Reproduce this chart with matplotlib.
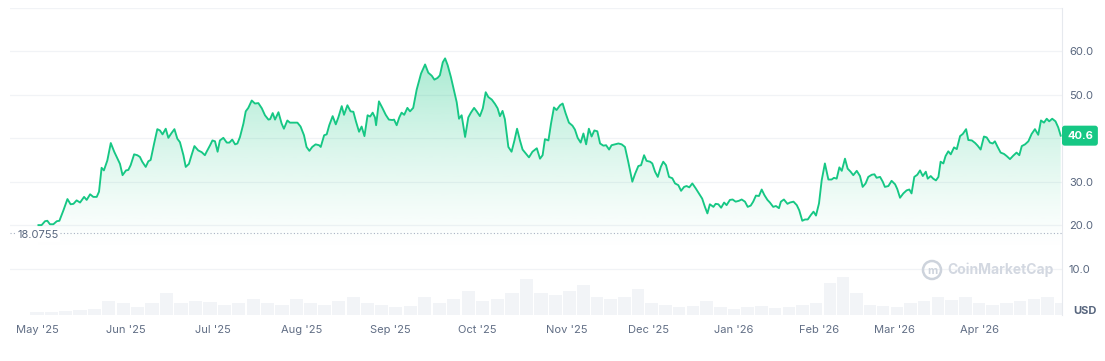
import numpy as np
import matplotlib
matplotlib.use("Agg")
import matplotlib.pyplot as plt
from matplotlib.patches import Circle
from matplotlib.transforms import blended_transform_factory

plt.rcParams['font.family'] = ['Inter', 'DejaVu Sans']

# price, days counted from 1 May 2025
days = [
    0.5, 1.6, 2.8, 3.6, 4.5, 5.7, 6.9, 7.8, 9.2, 10.6, 11.7, 12.7, 13.8, 15.0, 16.4, 17.3,
    18.5, 19.6, 20.8, 21.6, 22.5, 23.3, 24.5, 25.7, 26.9, 28.3, 28.9, 29.8, 31.0, 31.8,
    32.6, 33.8, 34.9, 35.8, 36.6, 37.8, 38.7, 39.5, 40.7, 41.8, 42.7, 43.6, 44.7, 45.6,
    46.7, 47.7, 48.7, 49.6, 50.8, 51.6, 52.7, 53.6, 54.6, 55.9, 57.1, 58.2, 58.8, 60.0,
    60.8, 61.7, 62.6, 63.4, 64.6, 65.8, 66.7, 67.7, 68.7, 69.5, 70.4, 71.6, 72.4, 73.3,
    74.5, 75.6, 76.8, 78.0, 79.1, 80.3, 80.9, 81.8, 82.6, 83.8, 84.9, 85.7, 86.9, 87.8,
    89.2, 90.4, 91.5, 92.7, 93.6, 94.6, 95.6, 96.8, 98.0, 98.6, 99.8, 100.7, 101.6, 102.8,
    103.9, 104.8, 106.0, 106.8, 108.0, 109.1, 110.1, 111.0, 112.1, 113.0, 114.0, 115.1,
    116.0, 116.9, 117.7, 118.1, 119.1, 120.3, 121.5, 122.6, 123.8, 124.4, 125.3, 126.2,
    127.0, 127.9, 129.0, 129.9, 131.0, 132.2, 133.7, 135.1, 136.2, 137.4, 138.3, 139.4,
    140.2, 141.2, 142.0, 142.9, 144.0, 144.8, 146.0, 146.8, 147.7, 148.9, 150.0, 150.9,
    152.0, 152.9, 154.0, 155.0, 156.0, 156.9, 158.1, 159.2, 160.1, 160.9, 161.8, 162.6,
    163.8, 164.9, 165.9, 166.8, 167.8, 168.7, 169.9, 170.9, 172.1, 173.6, 174.7, 175.6,
    176.4, 177.6, 178.5, 179.5, 180.4, 181.6, 182.5, 183.5, 184.7, 186.0, 186.9, 187.9,
    189.0, 190.0, 191.0, 192.0, 193.0, 194.0, 195.1, 196.1, 197.3, 198.3, 199.4, 200.3,
    201.6, 202.8, 204.0, 205.2, 206.4, 207.9, 208.9, 210.1, 211.1, 212.2, 213.1, 214.4,
    215.2, 216.2, 217.2, 218.3, 219.2, 220.2, 221.3, 222.5, 223.5, 224.7, 225.7, 226.8,
    227.7, 228.7, 229.8, 231.0, 232.2, 233.4, 234.4, 235.3, 236.2, 237.5, 238.3, 239.3,
    240.3, 241.4, 242.3, 243.5, 244.5, 245.6, 246.8, 247.8, 249.0, 250.0, 251.1, 252.0,
    253.0, 254.1, 255.1, 256.1, 257.2, 258.1, 259.3, 260.3, 261.4, 262.1, 263.2, 264.5,
    265.4, 266.7, 267.9, 268.8, 269.9, 270.9, 271.9, 273.0, 274.0, 274.9, 276.0, 277.0,
    278.2, 279.5, 280.7, 281.6, 282.6, 283.6, 284.5, 285.7, 286.7, 287.8, 288.8, 290.1,
    291.3, 292.3, 293.4, 294.4, 295.7, 296.7, 297.5, 298.8, 299.8, 300.6, 301.9, 303.1,
    304.4, 305.2, 306.2, 307.4, 308.6, 309.6, 310.4, 311.4, 312.5, 313.5, 314.5, 315.6,
    316.3, 317.4, 318.3, 319.3, 320.2, 321.0, 322.0, 322.8, 323.8, 324.7, 325.9, 326.9,
    328.1, 329.1, 330.3, 331.1, 332.4, 333.6, 334.5, 335.6, 336.8, 337.8, 339.0, 340.0,
    340.8, 341.8, 342.9, 344.1, 345.1, 346.3, 347.5, 348.7, 349.7, 350.6, 351.8, 353.0,
    354.2, 355.4, 356.6, 357.6, 358.7, 359.7, 360.6, 361.7, 362.9, 363.9, 364.8,
]
price = [
    20.0, 20.0, 20.9, 21.0, 20.2, 20.2, 20.9, 21.0, 23.4, 26.0, 24.8, 24.9, 25.7, 25.2, 26.5, 25.8,
    27.1, 26.5, 26.5, 27.7, 33.2, 32.6, 34.9, 38.9, 36.9, 34.9, 34.1, 31.5, 32.6, 32.7,
    33.8, 36.3, 36.1, 35.7, 34.6, 33.4, 34.7, 35.0, 38.8, 42.1, 41.8, 40.9, 42.2, 40.1,
    41.2, 42.1, 39.9, 39.1, 36.1, 33.4, 34.1, 36.1, 38.2, 37.2, 36.8, 36.1, 36.9, 38.4,
    39.5, 39.3, 36.9, 39.5, 40.1, 39.0, 39.0, 39.7, 38.6, 38.8, 40.3, 43.4, 46.2, 47.0,
    48.7, 48.0, 48.1, 46.9, 45.3, 44.3, 44.4, 45.8, 44.3, 46.0, 43.4, 42.2, 44.1, 43.6,
    43.6, 43.6, 42.7, 40.7, 38.0, 37.1, 38.0, 38.6, 38.4, 38.0, 40.7, 40.9, 43.0, 45.1,
    43.2, 44.8, 47.4, 45.4, 47.6, 46.2, 46.1, 43.9, 41.5, 42.7, 40.5, 45.3,
    45.0, 45.9, 44.8, 43.0, 48.5, 47.0, 45.4, 44.3, 44.2, 44.3, 43.0, 44.8,
    45.9, 45.4, 47.0, 46.2, 47.0, 51.2, 54.9, 57.0, 55.1, 54.4, 53.5, 53.9,
    54.5, 57.5, 58.4, 56.8, 54.1, 51.8, 48.3, 44.5, 45.3, 40.3, 44.8, 45.9,
    47.0, 46.2, 45.1, 46.9, 50.6, 49.5, 48.9, 47.9, 46.9, 45.1, 46.3, 44.4,
    38.0, 36.9, 39.5, 42.2, 39.5, 37.4, 36.4, 35.6, 36.9, 37.7, 35.3, 36.1,
    39.8, 39.5, 43.4, 47.1, 46.5, 47.6, 48.0, 45.8, 43.6, 42.9, 42.0, 40.1,
    39.0, 41.1, 38.6, 42.2, 40.4, 41.8, 41.6, 38.8, 38.3, 38.4, 37.4, 38.4,
    38.6, 38.8, 38.6, 38.0, 34.6, 30.0, 31.8, 33.6, 33.8, 36.1, 34.8, 34.6,
    34.2, 32.3, 31.1, 33.4, 34.6, 33.8, 31.1, 30.8, 29.6, 29.2, 27.9, 28.8,
    29.0, 28.7, 29.6, 28.5, 27.3, 26.1, 24.2, 22.7, 24.8, 24.2, 24.9, 24.8,
    24.0, 25.2, 24.6, 25.8, 25.9, 25.4, 25.6, 25.9, 25.4, 24.2, 24.5, 25.4,
    26.8, 26.7, 28.2, 26.9, 25.8, 25.2, 24.2, 24.4, 23.9, 25.4, 25.9, 24.9,
    25.2, 25.4, 24.6, 23.4, 21.0, 21.3, 21.3, 22.3, 23.1, 22.2, 25.0, 30.3,
    34.2, 30.5, 30.5, 30.9, 30.7, 33.3, 32.5, 35.3, 33.0, 32.3, 31.5, 32.5,
    31.3, 28.8, 29.6, 31.1, 31.6, 31.7, 30.9, 31.1, 30.0, 28.8, 29.0, 30.2,
    29.4, 28.3, 26.3, 27.3, 28.0, 28.2, 27.3, 31.1, 31.6, 32.6, 31.3, 32.3,
    30.7, 31.3, 30.7, 30.3, 31.1, 34.6, 34.2, 35.9, 37.0, 36.3, 37.9, 37.5,
    40.5, 41.0, 42.1, 39.6, 39.5, 38.9, 38.3, 37.4, 40.4, 40.2, 39.0, 38.8,
    39.3, 38.0, 36.7, 36.4, 35.9, 35.2, 36.0, 36.7, 36.1, 38.2, 38.6, 39.3,
    41.0, 42.1, 40.8, 44.1, 43.6, 44.5, 43.9, 44.5, 43.9, 42.5, 40.6,
]

# relative trading volume, one reading every 5 days
vol_days = list(range(0, 370, 5))
volume = [
    3, 3, 4, 5, 6, 14, 12, 8, 12, 22, 12, 14, 13, 10, 12, 16, 12, 10, 16, 12,
    10, 14, 18, 12, 10, 8, 9, 18, 12, 16, 24, 14, 16, 22, 36, 22, 20, 24, 30, 18,
    16, 18, 26, 12, 10, 8, 9, 14, 8, 6, 8, 9, 7, 8, 10, 12, 32, 38, 22, 10,
    9, 8, 12, 14, 18, 15, 18, 12, 10, 12, 14, 16, 18, 12,
]

open_price = 18.0755
last_price = 40.6
# 40.0 sits under the last-price badge in the source, so it is not labelled
price_ticks = [10, 20, 30, 50, 60]
grid_levels = [10, 20, 30, 40, 50, 60, 70]

month_labels = ["May '25", "Jun '25", "Jul '25", "Aug '25", "Sep '25", "Oct '25",
                "Nov '25", "Dec '25", "Jan '26", "Feb '26", "Mar '26", "Apr '26"]
month_days = [0, 31, 61, 92, 123, 153, 184, 214, 245, 276, 304, 335]

GREEN = '#16c784'
GREY = '#58667e'
W, H = 1105, 361
AX_L, AX_R, AX_T, AX_B = 10, 1062, 8, 315
# the source chart spaces months unevenly; label centres in pixels
label_px = [37, 126, 213, 302, 390, 477, 567, 649, 734, 819, 894, 979]

kd = np.array(month_days, float)
kp = (np.array(label_px, float) - AX_L) / (AX_R - AX_L)
s0 = (kp[1] - kp[0]) / (kd[1] - kd[0])
s1 = (kp[-1] - kp[-2]) / (kd[-1] - kd[-2])
kd = np.r_[kd[0] - 200, kd, kd[-1] + 200]
kp = np.r_[kp[0] - 200 * s0, kp, kp[-1] + 200 * s1]


def fwd(d):
    return np.interp(np.asarray(d, float), kd, kp)


def inv(p):
    return np.interp(np.asarray(p, float), kp, kd)


fig = plt.figure(figsize=(W / 100, H / 100), dpi=100)
ax = fig.add_axes([AX_L / W, 1 - AX_B / H, (AX_R - AX_L) / W, (AX_B - AX_T) / H])
axv = ax.twinx()
ax.set_zorder(axv.get_zorder() + 1)
ax.patch.set_visible(False)

ax.set_xscale('function', functions=(fwd, inv))
ymin, ymax = -0.7, 70.0

# volume bars behind everything
axv.bar(vol_days, volume, width=4.6, color='#f2f4f7', linewidth=0)
axv.set_ylim(0, AX_B - AX_T)
axv.axis('off')

for g in grid_levels:
    ax.axhline(g, color='#f1f3f6', lw=0.9, zorder=0)

# gradient area under the line
fill = ax.fill_between(days, price, ymin, color='none', lw=0)
grad = np.zeros((256, 1, 4))
grad[:, 0, :3] = matplotlib.colors.to_rgb(GREEN)
yy = np.linspace(1, 0, 256) * (ymax - ymin) + ymin
grad[:, 0, 3] = np.clip((yy - 14) / (58 - 14), 0, 1) ** 1.3 * 0.36
im = ax.imshow(grad, extent=[0, 1, 0, 1], transform=ax.transAxes,
               aspect='auto', zorder=1, interpolation='bilinear')
im.set_clip_path(fill.get_paths()[0], transform=ax.transData)

ax.plot(days, price, color=GREEN, lw=1.35, zorder=3, solid_joinstyle='round')

ax.axhline(open_price, color='#a7b1c2', lw=0.8, ls=(0, (1, 2)), zorder=2)
ax.text(inv((17 - AX_L) / (AX_R - AX_L)), open_price - 0.45, f"{open_price:g}",
        ha='left', va='center', fontsize=8, color=GREY, zorder=4,
        bbox=dict(fc='white', ec='none', pad=1))

ax.set_xlim(inv(0), inv(1))
ax.set_ylim(ymin, ymax)

ax.set_xticks(month_days)
ax.set_xticklabels(month_labels)
ax.xaxis.set_minor_locator(matplotlib.ticker.NullLocator())
ax.yaxis.tick_right()
ax.set_yticks(price_ticks)
ax.set_yticklabels([f"{t:.1f}" for t in price_ticks])
ax.tick_params(axis='x', length=0, pad=7, labelsize=8, labelcolor='#616e85')
ax.tick_params(axis='y', length=0, pad=5, labelsize=8, labelcolor=GREY)

for side in ['top', 'bottom', 'left']:
    ax.spines[side].set_visible(False)
ax.spines['right'].set_color('#e6e9ee')
ax.spines['right'].set_linewidth(0.8)

# last price badge
ax.annotate(f"{last_price:.1f}", xy=(1, last_price),
            xycoords=blended_transform_factory(ax.transAxes, ax.transData),
            xytext=(3.6, 0), textcoords='offset points', ha='left', va='center',
            fontsize=8, fontweight='bold', color='white', zorder=6,
            bbox=dict(boxstyle='round,pad=0.45,rounding_size=0.25', fc=GREEN, ec='none'),
            annotation_clip=False)

fig.text(1085 / W, 1 - 311 / H, "USD", ha='center', va='center', fontsize=8,
         fontweight='bold', color=GREY)

# watermark
fig.patches.append(Circle((932, H - 270), 9, transform=None, fill=False,
                          ec='#cdd3dc', lw=1.8))
fig.text(932 / W, 1 - 271 / H, "m", ha='center', va='center', fontsize=8,
         fontweight='bold', color='#cdd3dc')
fig.text(947 / W, 1 - 270 / H, "CoinMarketCap", ha='left', va='center',
         fontsize=10, fontweight='bold', color='#d3d8e1')

fig.savefig("out.png", dpi=100, facecolor='white')
